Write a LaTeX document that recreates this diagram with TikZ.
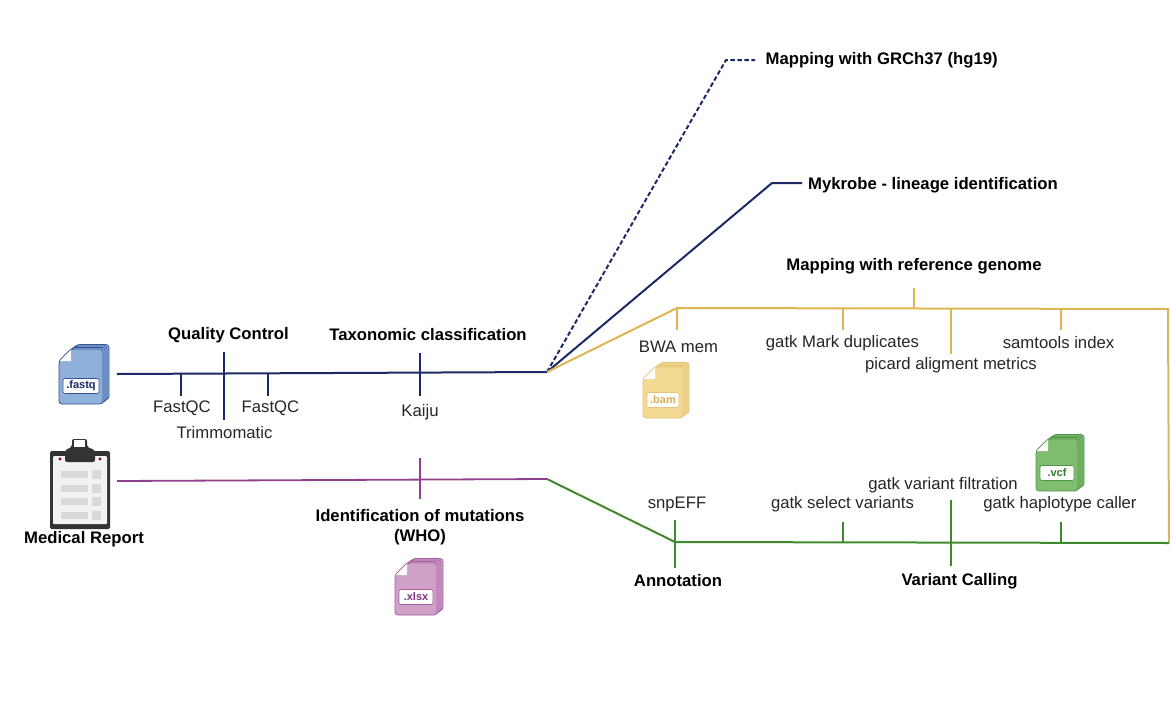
\documentclass[tikz,border=0pt]{standalone}
\usepackage{fontspec}
\setmainfont{Liberation Sans}
\definecolor{navyl}{HTML}{1B2A66}
\definecolor{yell}{HTML}{DDB650}
\definecolor{gren}{HTML}{3F8A2E}
\definecolor{purp}{HTML}{8E3F8E}
\definecolor{fqF}{RGB}{143,176,219}
\definecolor{fqE}{RGB}{50,85,150}
\definecolor{fqT}{RGB}{25,40,100}
\definecolor{bamF}{RGB}{243,217,146}
\definecolor{bamE}{RGB}{228,196,120}
\definecolor{bamT}{RGB}{215,175,85}
\definecolor{vcfF}{RGB}{129,189,110}
\definecolor{vcfE}{RGB}{80,150,70}
\definecolor{vcfT}{RGB}{50,125,45}
\definecolor{xlF}{RGB}{208,160,200}
\definecolor{xlE}{RGB}{165,95,160}
\definecolor{xlT}{RGB}{130,50,130}
\tikzset{
  lbl/.style={inner sep=0pt,font=\fontsize{16.7}{20}\selectfont,text=black!85,align=center},
  hd/.style={inner sep=0pt,font=\fontsize{16.7}{20.5}\selectfont\bfseries,text=black,align=center},
  navyline/.style={navyl,line width=2pt},
  yline/.style={yell,line width=2pt},
  gline/.style={gren,line width=2pt},
  pline/.style={purp,line width=1.8pt},
}
% #1 name, #2 x, #3 y (top-left of front sheet), #4 fill, #5 edge, #6 label colour, #7 label, #8 width, #9 height
\newcommand{\fileicon}[9]{%
  \begin{scope}[shift={(#2,#3)}]
    \foreach \d in {3,2,1}{
      \draw[fill=#4,draw=#5,line width=.8pt,rounded corners=3pt]
        (12+2*\d,-1.5*\d) -- (#8+2*\d,-1.5*\d) -- (#8+2*\d,#9-1.5*\d) -- (2*\d,#9-1.5*\d) -- (2*\d,12-1.5*\d) -- cycle;}
    \draw[fill=#4,draw=#5,line width=.8pt,rounded corners=3pt]
      (12,0) -- (#8,0) -- (#8,#9) -- (0,#9) -- (0,12) -- cycle;
    \fill[white] (12,0) -- (12,12) -- (0,12) -- cycle;
    \draw[#5,line width=.6pt] (12,0) -- (0,12);
    \node[draw=#5,fill=white,rounded corners=2pt,line width=.6pt,minimum width=#8pt-8pt,minimum height=15pt,inner sep=0pt,
      font=\fontsize{11}{12}\selectfont\bfseries,text=#6] (#1) at (#8/2,#9-18) {#7};
  \end{scope}}
\begin{document}
\begin{tikzpicture}[x=1pt,y=-1pt]
\useasboundingbox (0,0) rectangle (1170,721);
% anchor coordinates
\coordinate (fqEnd) at (117,374);
\coordinate (hub) at (547,372);
\coordinate (mrEnd) at (117,481);
\coordinate (hub2) at (547,479);
\coordinate (dA) at (726,60);
\coordinate (dB) at (755,60);
\coordinate (mA) at (772,183);
\coordinate (mB) at (802,183);
\coordinate (yA) at (677,308);
\coordinate (yB) at (1168,309);
\coordinate (yC) at (1169,543);
\coordinate (gA) at (675,542);
% headings
\node[hd] (qc) at (228.5,335) {Quality Control};
\node[hd] (tax) at (428,335) {Taxonomic classification};
\node[hd,anchor=west] (grc) at (765.5,60) {Mapping with GRCh37 (hg19)};
\node[hd,anchor=west] (myk) at (808,185.5) {Mykrobe - lineage identification};
\node[hd] (mapr) at (914,266.5) {Mapping with reference genome};
\node[hd] (mr) at (84,539) {Medical Report};
\node[hd] (who) at (420,527) {Identification of mutations\\(WHO)};
\node[hd] (ann) at (678,581) {Annotation};
\node[hd] (vc) at (959.5,581) {Variant Calling};
% tool labels
\node[lbl] (fq1) at (182,408.5) {FastQC};
\node[lbl] (trim) at (224.5,433) {Trimmomatic};
\node[lbl] (fq2) at (270.5,408.5) {FastQC};
\node[lbl] (kai) at (420,412) {Kaiju};
\node[lbl] (bwa) at (678.5,346.5) {BWA mem};
\node[lbl] (mdup) at (842.5,343) {gatk Mark duplicates};
\node[lbl] (pic) at (951,365) {picard aligment metrics};
\node[lbl] (sam) at (1058.5,343) {samtools index};
\node[lbl] (snp) at (677,504) {snpEFF};
\node[lbl] (sel) at (842.5,504) {gatk select variants};
\node[lbl] (filt) at (943,485.5) {gatk variant filtration};
\node[lbl] (hap) at (1060,504) {gatk haplotype caller};
% icons
\fileicon{fastq}{59}{349}{fqF}{fqE}{fqT}{.fastq}{44}{55}
\fileicon{bam}{643}{367}{bamF}{bamE}{bamT}{.bam}{40}{51}
\fileicon{vcf}{1036}{439}{vcfF}{vcfE}{vcfT}{.vcf}{42}{52}
\fileicon{xlsx}{395}{563}{xlF}{xlE}{xlT}{.xlsx}{42}{52}
% clipboard
\fill[black!80,rounded corners=1.5pt] (50,451) rectangle (110,529);
\fill[black!5,rounded corners=1pt] (53,456) rectangle (107,524);
\fill[black!80,rounded corners=2pt] (65,462) -- (65,450) -- (72,447) -- (72,439) -- (87,439) -- (87,447) -- (95,450) -- (95,462) -- cycle;
\fill[white] (74,440) rectangle (85,447);
\fill[red!60!black] (60,459) circle (1.7pt) (100,459) circle (1.7pt);
\foreach \yy in {474,488,501,515}{
  \fill[black!15] (61,\yy-3.5) rectangle (88,\yy+3.5);
  \fill[black!15] (92,\yy-4.5) rectangle (101,\yy+4.5);
}
% navy main
\draw[navyline] (fqEnd) -- (hub);
\draw[navyline] (181,374) -- (181,396);
\draw[navyline] (224,352) -- (224,420);
\draw[navyline] (268,373) -- (268,396);
\draw[navyline] (420,353) -- (420,396);
% branches
\draw[navyline,dash pattern=on 4.5pt off 2.5pt] (hub) -- (dA) -- (dB);
\draw[navyline] (hub) -- (mA) -- (mB);
% yellow
\draw[yline] (hub) -- (yA) -- (yB) -- (yC);
\draw[yline] (677,308) -- (677,330);
\draw[yline] (843,308) -- (843,330);
\draw[yline] (951,308) -- (951,354);
\draw[yline] (1061,308) -- (1061,330);
\draw[yline] (914,288) -- (914,308);
% green
\draw[gline] (hub2) -- (gA) -- (yC);
\draw[gline] (675,520) -- (675,568);
\draw[gline] (843,522) -- (843,543);
\draw[gline] (951,500) -- (951,566);
\draw[gline] (1061,522) -- (1061,543);
% purple
\draw[pline] (mrEnd) -- (hub2);
\draw[pline] (420,458) -- (420,499);
\end{tikzpicture}
\end{document}
